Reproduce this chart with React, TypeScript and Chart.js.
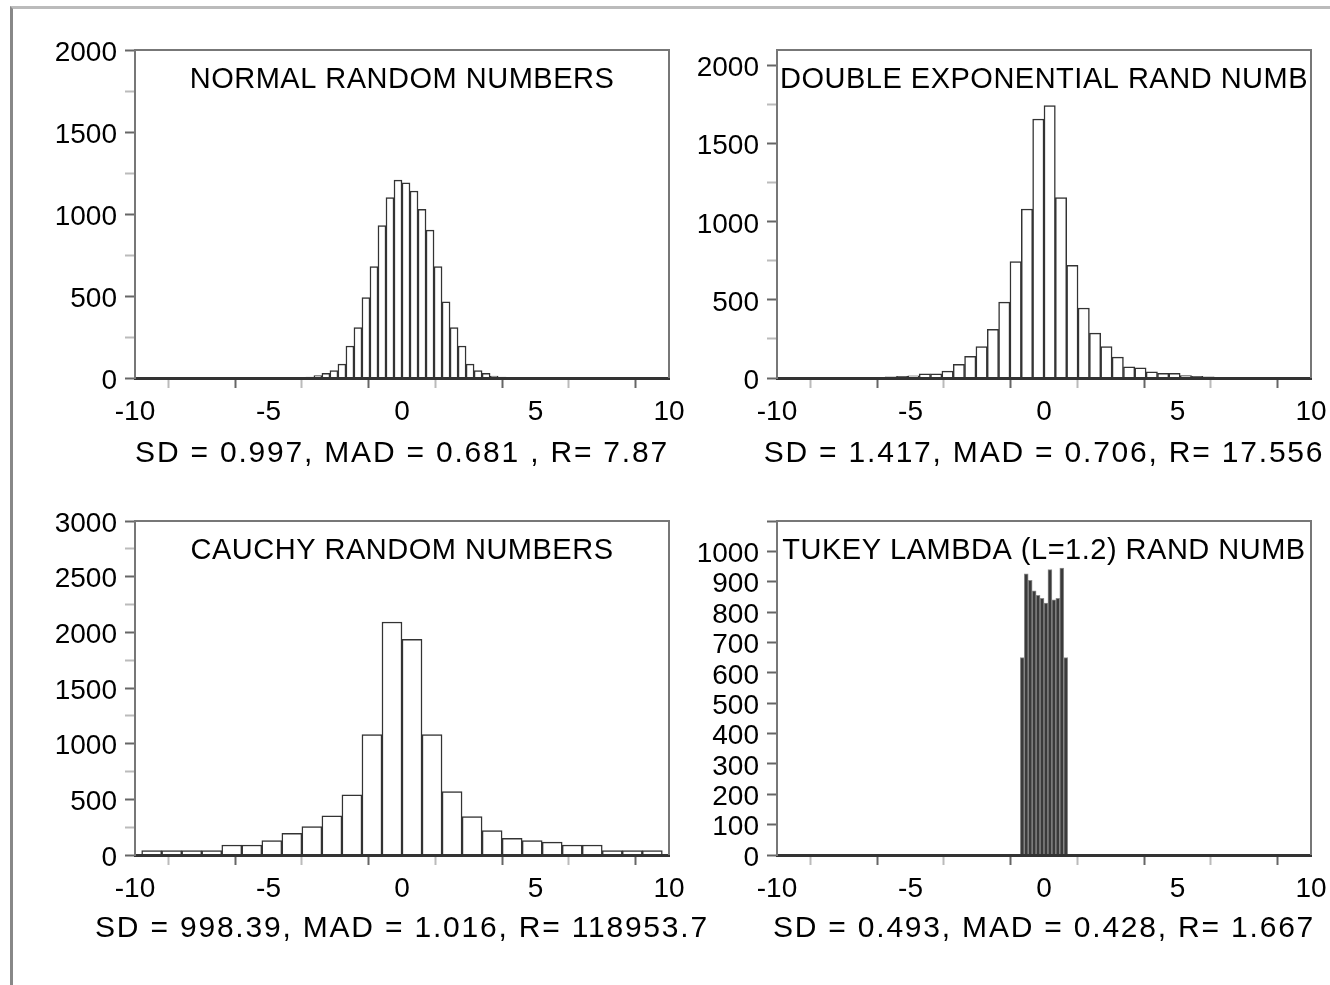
import React, { useEffect, useRef } from 'react';
import { Chart, registerables } from 'chart.js';

Chart.register(...registerables);

const FONT = '"Liberation Sans", Arial, Helvetica, sans-serif';

// ---------- data ----------
const xLabeledTicks = [-10, -5, 0, 5, 10];

const normalCenters = [-4.05, -3.75, -3.45, -3.15, -2.85, -2.55, -2.25, -1.95, -1.65, -1.35, -1.05, -0.75, -0.45, -0.15,
  0.15, 0.45, 0.75, 1.05, 1.35, 1.65, 1.95, 2.25, 2.55, 2.85, 3.15, 3.45, 3.75, 4.05];
const normalCounts = [1, 3, 6, 14, 29, 45, 85, 195, 307, 490, 679, 929, 1100, 1207,
  1190, 1140, 1029, 902, 679, 465, 307, 195, 85, 45, 29, 12, 5, 2];

const dexpCenters = [-8.2875, -7.8625, -7.4375, -7.0125, -6.5875, -6.1625, -5.7375, -5.3125, -4.8875, -4.4625,
  -4.0375, -3.6125, -3.1875, -2.7625, -2.3375, -1.9125, -1.4875, -1.0625, -0.6375, -0.2125,
  0.2125, 0.6375, 1.0625, 1.4875, 1.9125, 2.3375, 2.7625, 3.1875, 3.6125, 4.0375,
  4.4625, 4.8875, 5.3125, 5.7375, 6.1625, 6.5875, 7.0125, 7.4375, 7.8625, 8.2875];
const dexpCounts = [1, 2, 2, 3, 4, 5, 7, 10, 14, 27,
  27, 44, 88, 138, 201, 312, 486, 746, 1082, 1658,
  1744, 1155, 721, 448, 287, 201, 134, 71, 65, 40,
  30, 30, 15, 10, 7, 5, 3, 2, 2, 1];

const cauchyCenters = [-9.375, -8.625, -7.875, -7.125, -6.375, -5.625, -4.875, -4.125, -3.375, -2.625, -1.875, -1.125, -0.375,
  0.375, 1.125, 1.875, 2.625, 3.375, 4.125, 4.875, 5.625, 6.375, 7.125, 7.875, 8.625, 9.375];
const cauchyCounts = [39, 39, 39, 39, 90, 90, 129, 195, 255, 351, 540, 1081, 2093,
  1937, 1081, 570, 345, 219, 150, 129, 115, 90, 90, 39, 39, 39];

const tukeyCenters = [-0.814, -0.666, -0.518, -0.37, -0.222, -0.074, 0.074, 0.222, 0.37, 0.518, 0.666, 0.814];
const tukeyCounts = [650, 926, 905, 870, 855, 845, 830, 940, 840, 845, 945, 650];

// ---------- panels ----------
type Box = { left: number; top: number; width: number; height: number };
type Area = { left: number; top: number; right: number; bottom: number };
type PanelSpec = {
  title: string;
  stats: string;
  centers: number[];
  counts: number[];
  yMax: number;
  yStep: number;
  yLabelEvery: number;
  yLabelMax: number;
  statsOffset: number;
  canvas: Box;
  area: Area;
  fill: string;
  border: string;
  borderWidth: number;
};

const LEFT_CANVAS_X = 14, LEFT_CANVAS_W = 726;
const RIGHT_CANVAS_X = 680, RIGHT_CANVAS_W = 650;
const TOP_CANVAS_Y = 12, TOP_CANVAS_H = 468;
const BOT_CANVAS_Y = 480, BOT_CANVAS_H = 505;

const panels: PanelSpec[] = [
  {
    title: 'NORMAL RANDOM NUMBERS',
    stats: 'SD = 0.997, MAD = 0.681 , R= 7.87',
    centers: normalCenters, counts: normalCounts,
    yMax: 2000, yStep: 250, yLabelEvery: 500, yLabelMax: 2000, statsOffset: 84,
    canvas: { left: LEFT_CANVAS_X, top: TOP_CANVAS_Y, width: LEFT_CANVAS_W, height: TOP_CANVAS_H },
    area: { left: 135, top: 50, right: 669, bottom: 378 },
    fill: '#ffffff', border: '#333333', borderWidth: 1.5,
  },
  {
    title: 'DOUBLE EXPONENTIAL RAND NUMB',
    stats: 'SD = 1.417, MAD = 0.706, R= 17.556',
    centers: dexpCenters, counts: dexpCounts,
    yMax: 2100, yStep: 250, yLabelEvery: 500, yLabelMax: 2000, statsOffset: 84,
    canvas: { left: RIGHT_CANVAS_X, top: TOP_CANVAS_Y, width: RIGHT_CANVAS_W, height: TOP_CANVAS_H },
    area: { left: 777, top: 50, right: 1311, bottom: 378 },
    fill: '#ffffff', border: '#333333', borderWidth: 1.5,
  },
  {
    title: 'CAUCHY RANDOM NUMBERS',
    stats: 'SD = 998.39, MAD = 1.016, R= 118953.7',
    centers: cauchyCenters, counts: cauchyCounts,
    yMax: 3000, yStep: 250, yLabelEvery: 500, yLabelMax: 3000, statsOffset: 82,
    canvas: { left: LEFT_CANVAS_X, top: BOT_CANVAS_Y, width: LEFT_CANVAS_W, height: BOT_CANVAS_H },
    area: { left: 135, top: 521, right: 669, bottom: 855 },
    fill: '#ffffff', border: '#333333', borderWidth: 1.5,
  },
  {
    title: 'TUKEY LAMBDA (L=1.2) RAND NUMB',
    stats: 'SD = 0.493, MAD = 0.428, R= 1.667',
    centers: tukeyCenters, counts: tukeyCounts,
    yMax: 1100, yStep: 100, yLabelEvery: 100, yLabelMax: 1000, statsOffset: 82,
    canvas: { left: RIGHT_CANVAS_X, top: BOT_CANVAS_Y, width: RIGHT_CANVAS_W, height: BOT_CANVAS_H },
    area: { left: 777, top: 521, right: 1311, bottom: 855 },
    fill: '#3a3a3a', border: '#8c8c8c', borderWidth: 1,
  },
];

const isMultiple = (v: number, m: number) => Math.abs(v / m - Math.round(v / m)) < 1e-6;

const framePlugin = {
  id: 'frame',
  afterDraw(chart: any, _args: any, opts: any) {
    const { ctx, chartArea: a } = chart;
    ctx.save();
    ctx.strokeStyle = '#777777';
    ctx.lineWidth = 2;
    ctx.beginPath();
    ctx.moveTo(a.left, a.top);
    ctx.lineTo(a.right, a.top);
    ctx.lineTo(a.right, a.bottom);
    ctx.stroke();
    const cx = (a.left + a.right) / 2;
    ctx.fillStyle = '#000000';
    ctx.textAlign = 'center';
    ctx.textBaseline = 'alphabetic';
    ctx.font = `29px ${FONT}`;
    (ctx as any).letterSpacing = '0.5px';
    ctx.fillText(opts.title, cx, a.top + 38);
    ctx.font = `30px ${FONT}`;
    (ctx as any).letterSpacing = '1.8px';
    ctx.fillText(opts.stats, cx, a.bottom + opts.statsOffset);
    (ctx as any).letterSpacing = '0px';
    ctx.restore();
  },
};

function buildConfig(spec: PanelSpec): any {
  const { canvas, area } = spec;
  const yW = area.left - canvas.left;
  const xH = canvas.top + canvas.height - area.bottom;
  return {
    type: 'bar',
    data: {
      datasets: [
        {
          data: spec.centers.map((x, i) => ({ x, y: spec.counts[i] })),
          backgroundColor: spec.fill,
          borderColor: spec.border,
          borderWidth: spec.borderWidth,
          borderSkipped: 'start',
          barPercentage: 1,
          categoryPercentage: 1,
        },
      ],
    },
    options: {
      animation: false,
      responsive: false,
      maintainAspectRatio: false,
      devicePixelRatio: 1,
      events: [],
      layout: {
        padding: {
          left: 0,
          top: area.top - canvas.top,
          right: canvas.left + canvas.width - area.right,
          bottom: 0,
        },
      },
      plugins: {
        legend: { display: false },
        tooltip: { enabled: false },
        title: { display: false },
        frame: { title: spec.title, stats: spec.stats, statsOffset: spec.statsOffset },
      },
      scales: {
        x: {
          type: 'linear',
          min: -10,
          max: 10,
          offset: false,
          grid: {
            drawOnChartArea: false,
            drawTicks: true,
            tickLength: 10,
            tickWidth: 2,
            tickColor: (c: any) => (c.tick && isMultiple(c.tick.value, 5) ? '#666666' : '#bbbbbb'),
          },
          border: { display: true, color: '#333333', width: 3, z: 1 },
          ticks: {
            stepSize: 2.5,
            autoSkip: false,
            maxTicksLimit: 100,
            maxRotation: 0,
            minRotation: 0,
            padding: 7,
            color: '#000000',
            font: { family: FONT, size: 28 },
            callback: (v: number) => (xLabeledTicks.some((t) => Math.abs(t - v) < 1e-6) ? String(Math.round(v)) : ''),
          },
          afterFit: (s: any) => {
            s.height = xH;
            s.paddingLeft = 0;
            s.paddingRight = 0;
          },
        },
        y: {
          type: 'linear',
          min: 0,
          max: spec.yMax,
          grid: {
            drawOnChartArea: false,
            drawTicks: true,
            tickLength: 10,
            tickWidth: 2,
            tickColor: (c: any) => (c.tick && isMultiple(c.tick.value, spec.yLabelEvery) ? '#666666' : '#bbbbbb'),
          },
          border: { display: true, color: '#777777', width: 2, z: 1 },
          ticks: {
            stepSize: spec.yStep,
            includeBounds: false,
            autoSkip: false,
            maxTicksLimit: 100,
            padding: 8,
            labelOffset: 3,
            color: '#000000',
            font: { family: FONT, size: 28 },
            callback: (v: number) =>
              isMultiple(v, spec.yLabelEvery) && v <= spec.yLabelMax + 1e-6 ? String(Math.round(v)) : '',
          },
          afterFit: (s: any) => {
            s.width = yW;
            s.paddingTop = 0;
            s.paddingBottom = 0;
          },
        },
      },
    },
    plugins: [framePlugin],
  };
}

function Panel({ spec }: { spec: PanelSpec }) {
  const ref = useRef<HTMLCanvasElement>(null);
  useEffect(() => {
    if (!ref.current) return;
    const chart = new Chart(ref.current, buildConfig(spec));
    return () => chart.destroy();
  }, [spec]);
  const c = spec.canvas;
  return (
    <canvas
      ref={ref}
      width={c.width}
      height={c.height}
      style={{ position: 'absolute', left: c.left, top: c.top, width: c.width, height: c.height }}
    />
  );
}

export default function App() {
  return (
    <div style={{ position: 'absolute', left: 0, top: 0, width: 1330, height: 985, overflow: 'hidden', background: '#ffffff' }}>
      <div
        style={{
          position: 'absolute',
          left: 10,
          top: 6,
          width: 1330,
          height: 985,
          borderTop: '3px solid #bbbbbb',
          borderLeft: '3px solid #888888',
          boxSizing: 'border-box',
        }}
      />
      {panels.map((p) => (
        <Panel key={p.title} spec={p} />
      ))}
    </div>
  );
}
